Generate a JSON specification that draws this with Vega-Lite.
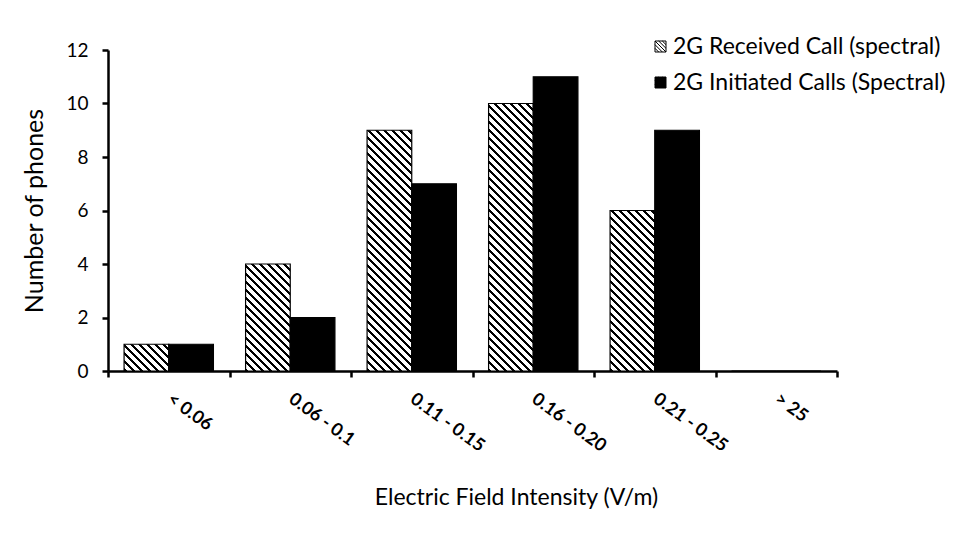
{
"$schema": "https://vega.github.io/schema/vega-lite/v6.json",
"width": 729,
"height": 321,
"autosize": "none",
"padding": {"left": 108, "top": 50, "right": 139, "bottom": 172},
"background": "#ffffff",
"config": {
  "font": "Lato",
  "view": {"stroke": null},
  "axis": {"domainColor": "#000", "domainWidth": 2.5, "tickColor": "#000", "tickWidth": 2.5, "tickSize": 6, "labelColor": "#000", "titleColor": "#000", "grid": false, "titleFontWeight": "normal", "titleFont": "Lato", "labelFont": "Lato"},
  "legend": {"labelFont": "Lato", "labelColor": "#000"}
},
"data": {"values": [
  {"cat": "< 0.06", "series": "2G Received Call (spectral)", "value": 1},
  {"cat": "< 0.06", "series": "2G Initiated Calls (Spectral)", "value": 1},
  {"cat": "0.06 - 0.1", "series": "2G Received Call (spectral)", "value": 4},
  {"cat": "0.06 - 0.1", "series": "2G Initiated Calls (Spectral)", "value": 2},
  {"cat": "0.11 - 0.15", "series": "2G Received Call (spectral)", "value": 9},
  {"cat": "0.11 - 0.15", "series": "2G Initiated Calls (Spectral)", "value": 7},
  {"cat": "0.16 - 0.20", "series": "2G Received Call (spectral)", "value": 10},
  {"cat": "0.16 - 0.20", "series": "2G Initiated Calls (Spectral)", "value": 11},
  {"cat": "0.21 - 0.25", "series": "2G Received Call (spectral)", "value": 6},
  {"cat": "0.21 - 0.25", "series": "2G Initiated Calls (Spectral)", "value": 9},
  {"cat": "> 25", "series": "2G Received Call (spectral)", "value": 0},
  {"cat": "> 25", "series": "2G Initiated Calls (Spectral)", "value": 0}
]},
"mark": {"type": "bar", "stroke": "#000", "strokeWidth": 1.2},
"encoding": {
  "x": {"field": "cat", "type": "nominal", "sort": ["< 0.06", "0.06 - 0.1", "0.11 - 0.15", "0.16 - 0.20", "0.21 - 0.25", "> 25"],
    "scale": {"paddingInner": 0, "paddingOuter": 0},
    "axis": {"title": "Electric Field Intensity (V/m)", "titleFontSize": 23, "titleX": 408, "titleY": 126, "titleBaseline": "middle", "titleAlign": "center",
      "tickBand": "extent", "labelAngle": 36, "labelAlign": "left", "labelBaseline": "middle", "labelPadding": 20, "labelFontSize": 18, "labelFontWeight": "bold"}},
  "xOffset": {"field": "series", "type": "nominal", "scale": {"domain": ["2G Received Call (spectral)", "2G Initiated Calls (Spectral)"], "paddingInner": 0, "paddingOuter": 0.36}},
  "y": {"field": "value", "type": "quantitative", "scale": {"domain": [0, 12]},
    "axis": {"title": "Number of phones", "titleFontSize": 25, "titleX": -74, "titleBaseline": "middle", "values": [0, 2, 4, 6, 8, 10, 12], "labelFontSize": 19, "labelPadding": 14}},
  "fill": {"field": "series", "type": "nominal",
    "scale": {"domain": ["2G Received Call (spectral)", "2G Initiated Calls (Spectral)"], "range": ["#ffffff", "#000000"]},
    "legend": {"title": null, "orient": "none", "legendX": 541, "legendY": -15, "labelFontSize": 23, "labelLimit": 0,
      "symbolType": "M-1,-1H1V1H-1Z M-1,0.33L-0.33,1 M-1,-0.33L0.33,1 M-1,-1L1,1 M-0.33,-1L1,0.33 M0.33,-1L1,-0.33",
      "symbolSize": 121, "symbolStrokeColor": "#000", "symbolStrokeWidth": 1, "rowPadding": 12, "labelOffset": 1},
    "condition": [
      {"test": "datum.series === '2G Received Call (spectral)' && datum.cat === '< 0.06'", "value": {"gradient": "linear", "x1": 0, "y1": 1, "x2": 1.1864, "y2": 0.2896, "stops": [
        {"offset":0,"color":"#000"},{"offset":0.0444,"color":"#000"},{"offset":0.0444,"color":"#fff"},{"offset":0.1111,"color":"#fff"},
        {"offset":0.1111,"color":"#000"},{"offset":0.1556,"color":"#000"},{"offset":0.1556,"color":"#fff"},{"offset":0.2222,"color":"#fff"},
        {"offset":0.2222,"color":"#000"},{"offset":0.2667,"color":"#000"},{"offset":0.2667,"color":"#fff"},{"offset":0.3333,"color":"#fff"},
        {"offset":0.3333,"color":"#000"},{"offset":0.3778,"color":"#000"},{"offset":0.3778,"color":"#fff"},{"offset":0.4444,"color":"#fff"},
        {"offset":0.4444,"color":"#000"},{"offset":0.4889,"color":"#000"},{"offset":0.4889,"color":"#fff"},{"offset":0.5556,"color":"#fff"},
        {"offset":0.5556,"color":"#000"},{"offset":0.6,"color":"#000"},{"offset":0.6,"color":"#fff"},{"offset":0.6667,"color":"#fff"},
        {"offset":0.6667,"color":"#000"},{"offset":0.7111,"color":"#000"},{"offset":0.7111,"color":"#fff"},{"offset":0.7778,"color":"#fff"},
        {"offset":0.7778,"color":"#000"},{"offset":0.8222,"color":"#000"},{"offset":0.8222,"color":"#fff"},{"offset":0.8889,"color":"#fff"},
        {"offset":0.8889,"color":"#000"},{"offset":0.9333,"color":"#000"},{"offset":0.9333,"color":"#fff"},{"offset":1,"color":"#fff"}]}},
      {"test": "datum.series === '2G Received Call (spectral)' && datum.cat === '0.06 - 0.1'", "value": {"gradient": "linear", "x1": 0, "y1": 1, "x2": 0.5050, "y2": -0.2097, "stops": [
        {"offset":0,"color":"#000"},{"offset":0.0211,"color":"#000"},{"offset":0.0211,"color":"#fff"},{"offset":0.0526,"color":"#fff"},
        {"offset":0.0526,"color":"#000"},{"offset":0.0737,"color":"#000"},{"offset":0.0737,"color":"#fff"},{"offset":0.1053,"color":"#fff"},
        {"offset":0.1053,"color":"#000"},{"offset":0.1263,"color":"#000"},{"offset":0.1263,"color":"#fff"},{"offset":0.1579,"color":"#fff"},
        {"offset":0.1579,"color":"#000"},{"offset":0.1789,"color":"#000"},{"offset":0.1789,"color":"#fff"},{"offset":0.2105,"color":"#fff"},
        {"offset":0.2105,"color":"#000"},{"offset":0.2316,"color":"#000"},{"offset":0.2316,"color":"#fff"},{"offset":0.2632,"color":"#fff"},
        {"offset":0.2632,"color":"#000"},{"offset":0.2842,"color":"#000"},{"offset":0.2842,"color":"#fff"},{"offset":0.3158,"color":"#fff"},
        {"offset":0.3158,"color":"#000"},{"offset":0.3368,"color":"#000"},{"offset":0.3368,"color":"#fff"},{"offset":0.3684,"color":"#fff"},
        {"offset":0.3684,"color":"#000"},{"offset":0.3895,"color":"#000"},{"offset":0.3895,"color":"#fff"},{"offset":0.4211,"color":"#fff"},
        {"offset":0.4211,"color":"#000"},{"offset":0.4421,"color":"#000"},{"offset":0.4421,"color":"#fff"},{"offset":0.4737,"color":"#fff"},
        {"offset":0.4737,"color":"#000"},{"offset":0.4947,"color":"#000"},{"offset":0.4947,"color":"#fff"},{"offset":0.5263,"color":"#fff"},
        {"offset":0.5263,"color":"#000"},{"offset":0.5474,"color":"#000"},{"offset":0.5474,"color":"#fff"},{"offset":0.5789,"color":"#fff"},
        {"offset":0.5789,"color":"#000"},{"offset":0.6,"color":"#000"},{"offset":0.6,"color":"#fff"},{"offset":0.6316,"color":"#fff"},
        {"offset":0.6316,"color":"#000"},{"offset":0.6526,"color":"#000"},{"offset":0.6526,"color":"#fff"},{"offset":0.6842,"color":"#fff"},
        {"offset":0.6842,"color":"#000"},{"offset":0.7053,"color":"#000"},{"offset":0.7053,"color":"#fff"},{"offset":0.7368,"color":"#fff"},
        {"offset":0.7368,"color":"#000"},{"offset":0.7579,"color":"#000"},{"offset":0.7579,"color":"#fff"},{"offset":0.7895,"color":"#fff"},
        {"offset":0.7895,"color":"#000"},{"offset":0.8105,"color":"#000"},{"offset":0.8105,"color":"#fff"},{"offset":0.8421,"color":"#fff"},
        {"offset":0.8421,"color":"#000"},{"offset":0.8632,"color":"#000"},{"offset":0.8632,"color":"#fff"},{"offset":0.8947,"color":"#fff"},
        {"offset":0.8947,"color":"#000"},{"offset":0.9158,"color":"#000"},{"offset":0.9158,"color":"#fff"},{"offset":0.9474,"color":"#fff"},
        {"offset":0.9474,"color":"#000"},{"offset":0.9684,"color":"#000"},{"offset":0.9684,"color":"#fff"},{"offset":1,"color":"#fff"}]}},
      {"test": "datum.series === '2G Received Call (spectral)' && datum.cat === '0.11 - 0.15'", "value": {"gradient": "linear", "x1": 0, "y1": 1, "x2": 0.2146, "y2": -0.1564, "stops": [
        {"offset":0,"color":"#000"},{"offset":0.0111,"color":"#000"},{"offset":0.0111,"color":"#fff"},{"offset":0.0278,"color":"#fff"},
        {"offset":0.0278,"color":"#000"},{"offset":0.0389,"color":"#000"},{"offset":0.0389,"color":"#fff"},{"offset":0.0556,"color":"#fff"},
        {"offset":0.0556,"color":"#000"},{"offset":0.0667,"color":"#000"},{"offset":0.0667,"color":"#fff"},{"offset":0.0833,"color":"#fff"},
        {"offset":0.0833,"color":"#000"},{"offset":0.0944,"color":"#000"},{"offset":0.0944,"color":"#fff"},{"offset":0.1111,"color":"#fff"},
        {"offset":0.1111,"color":"#000"},{"offset":0.1222,"color":"#000"},{"offset":0.1222,"color":"#fff"},{"offset":0.1389,"color":"#fff"},
        {"offset":0.1389,"color":"#000"},{"offset":0.15,"color":"#000"},{"offset":0.15,"color":"#fff"},{"offset":0.1667,"color":"#fff"},
        {"offset":0.1667,"color":"#000"},{"offset":0.1778,"color":"#000"},{"offset":0.1778,"color":"#fff"},{"offset":0.1944,"color":"#fff"},
        {"offset":0.1944,"color":"#000"},{"offset":0.2056,"color":"#000"},{"offset":0.2056,"color":"#fff"},{"offset":0.2222,"color":"#fff"},
        {"offset":0.2222,"color":"#000"},{"offset":0.2333,"color":"#000"},{"offset":0.2333,"color":"#fff"},{"offset":0.25,"color":"#fff"},
        {"offset":0.25,"color":"#000"},{"offset":0.2611,"color":"#000"},{"offset":0.2611,"color":"#fff"},{"offset":0.2778,"color":"#fff"},
        {"offset":0.2778,"color":"#000"},{"offset":0.2889,"color":"#000"},{"offset":0.2889,"color":"#fff"},{"offset":0.3056,"color":"#fff"},
        {"offset":0.3056,"color":"#000"},{"offset":0.3167,"color":"#000"},{"offset":0.3167,"color":"#fff"},{"offset":0.3333,"color":"#fff"},
        {"offset":0.3333,"color":"#000"},{"offset":0.3444,"color":"#000"},{"offset":0.3444,"color":"#fff"},{"offset":0.3611,"color":"#fff"},
        {"offset":0.3611,"color":"#000"},{"offset":0.3722,"color":"#000"},{"offset":0.3722,"color":"#fff"},{"offset":0.3889,"color":"#fff"},
        {"offset":0.3889,"color":"#000"},{"offset":0.4,"color":"#000"},{"offset":0.4,"color":"#fff"},{"offset":0.4167,"color":"#fff"},
        {"offset":0.4167,"color":"#000"},{"offset":0.4278,"color":"#000"},{"offset":0.4278,"color":"#fff"},{"offset":0.4444,"color":"#fff"},
        {"offset":0.4444,"color":"#000"},{"offset":0.4556,"color":"#000"},{"offset":0.4556,"color":"#fff"},{"offset":0.4722,"color":"#fff"},
        {"offset":0.4722,"color":"#000"},{"offset":0.4833,"color":"#000"},{"offset":0.4833,"color":"#fff"},{"offset":0.5,"color":"#fff"},
        {"offset":0.5,"color":"#000"},{"offset":0.5111,"color":"#000"},{"offset":0.5111,"color":"#fff"},{"offset":0.5278,"color":"#fff"},
        {"offset":0.5278,"color":"#000"},{"offset":0.5389,"color":"#000"},{"offset":0.5389,"color":"#fff"},{"offset":0.5556,"color":"#fff"},
        {"offset":0.5556,"color":"#000"},{"offset":0.5667,"color":"#000"},{"offset":0.5667,"color":"#fff"},{"offset":0.5833,"color":"#fff"},
        {"offset":0.5833,"color":"#000"},{"offset":0.5944,"color":"#000"},{"offset":0.5944,"color":"#fff"},{"offset":0.6111,"color":"#fff"},
        {"offset":0.6111,"color":"#000"},{"offset":0.6222,"color":"#000"},{"offset":0.6222,"color":"#fff"},{"offset":0.6389,"color":"#fff"},
        {"offset":0.6389,"color":"#000"},{"offset":0.65,"color":"#000"},{"offset":0.65,"color":"#fff"},{"offset":0.6667,"color":"#fff"},
        {"offset":0.6667,"color":"#000"},{"offset":0.6778,"color":"#000"},{"offset":0.6778,"color":"#fff"},{"offset":0.6944,"color":"#fff"},
        {"offset":0.6944,"color":"#000"},{"offset":0.7056,"color":"#000"},{"offset":0.7056,"color":"#fff"},{"offset":0.7222,"color":"#fff"},
        {"offset":0.7222,"color":"#000"},{"offset":0.7333,"color":"#000"},{"offset":0.7333,"color":"#fff"},{"offset":0.75,"color":"#fff"},
        {"offset":0.75,"color":"#000"},{"offset":0.7611,"color":"#000"},{"offset":0.7611,"color":"#fff"},{"offset":0.7778,"color":"#fff"},
        {"offset":0.7778,"color":"#000"},{"offset":0.7889,"color":"#000"},{"offset":0.7889,"color":"#fff"},{"offset":0.8056,"color":"#fff"},
        {"offset":0.8056,"color":"#000"},{"offset":0.8167,"color":"#000"},{"offset":0.8167,"color":"#fff"},{"offset":0.8333,"color":"#fff"},
        {"offset":0.8333,"color":"#000"},{"offset":0.8444,"color":"#000"},{"offset":0.8444,"color":"#fff"},{"offset":0.8611,"color":"#fff"},
        {"offset":0.8611,"color":"#000"},{"offset":0.8722,"color":"#000"},{"offset":0.8722,"color":"#fff"},{"offset":0.8889,"color":"#fff"},
        {"offset":0.8889,"color":"#000"},{"offset":0.9,"color":"#000"},{"offset":0.9,"color":"#fff"},{"offset":0.9167,"color":"#fff"},
        {"offset":0.9167,"color":"#000"},{"offset":0.9278,"color":"#000"},{"offset":0.9278,"color":"#fff"},{"offset":0.9444,"color":"#fff"},
        {"offset":0.9444,"color":"#000"},{"offset":0.9556,"color":"#000"},{"offset":0.9556,"color":"#fff"},{"offset":0.9722,"color":"#fff"},
        {"offset":0.9722,"color":"#000"},{"offset":0.9833,"color":"#000"},{"offset":0.9833,"color":"#fff"},{"offset":1,"color":"#fff"}]}},
      {"test": "datum.series === '2G Received Call (spectral)' && datum.cat === '0.16 - 0.20'", "value": {"gradient": "linear", "x1": 0, "y1": 1, "x2": 0.1944, "y2": -0.1638, "stops": [
        {"offset":0,"color":"#000"},{"offset":0.01,"color":"#000"},{"offset":0.01,"color":"#fff"},{"offset":0.025,"color":"#fff"},
        {"offset":0.025,"color":"#000"},{"offset":0.035,"color":"#000"},{"offset":0.035,"color":"#fff"},{"offset":0.05,"color":"#fff"},
        {"offset":0.05,"color":"#000"},{"offset":0.06,"color":"#000"},{"offset":0.06,"color":"#fff"},{"offset":0.075,"color":"#fff"},
        {"offset":0.075,"color":"#000"},{"offset":0.085,"color":"#000"},{"offset":0.085,"color":"#fff"},{"offset":0.1,"color":"#fff"},
        {"offset":0.1,"color":"#000"},{"offset":0.11,"color":"#000"},{"offset":0.11,"color":"#fff"},{"offset":0.125,"color":"#fff"},
        {"offset":0.125,"color":"#000"},{"offset":0.135,"color":"#000"},{"offset":0.135,"color":"#fff"},{"offset":0.15,"color":"#fff"},
        {"offset":0.15,"color":"#000"},{"offset":0.16,"color":"#000"},{"offset":0.16,"color":"#fff"},{"offset":0.175,"color":"#fff"},
        {"offset":0.175,"color":"#000"},{"offset":0.185,"color":"#000"},{"offset":0.185,"color":"#fff"},{"offset":0.2,"color":"#fff"},
        {"offset":0.2,"color":"#000"},{"offset":0.21,"color":"#000"},{"offset":0.21,"color":"#fff"},{"offset":0.225,"color":"#fff"},
        {"offset":0.225,"color":"#000"},{"offset":0.235,"color":"#000"},{"offset":0.235,"color":"#fff"},{"offset":0.25,"color":"#fff"},
        {"offset":0.25,"color":"#000"},{"offset":0.26,"color":"#000"},{"offset":0.26,"color":"#fff"},{"offset":0.275,"color":"#fff"},
        {"offset":0.275,"color":"#000"},{"offset":0.285,"color":"#000"},{"offset":0.285,"color":"#fff"},{"offset":0.3,"color":"#fff"},
        {"offset":0.3,"color":"#000"},{"offset":0.31,"color":"#000"},{"offset":0.31,"color":"#fff"},{"offset":0.325,"color":"#fff"},
        {"offset":0.325,"color":"#000"},{"offset":0.335,"color":"#000"},{"offset":0.335,"color":"#fff"},{"offset":0.35,"color":"#fff"},
        {"offset":0.35,"color":"#000"},{"offset":0.36,"color":"#000"},{"offset":0.36,"color":"#fff"},{"offset":0.375,"color":"#fff"},
        {"offset":0.375,"color":"#000"},{"offset":0.385,"color":"#000"},{"offset":0.385,"color":"#fff"},{"offset":0.4,"color":"#fff"},
        {"offset":0.4,"color":"#000"},{"offset":0.41,"color":"#000"},{"offset":0.41,"color":"#fff"},{"offset":0.425,"color":"#fff"},
        {"offset":0.425,"color":"#000"},{"offset":0.435,"color":"#000"},{"offset":0.435,"color":"#fff"},{"offset":0.45,"color":"#fff"},
        {"offset":0.45,"color":"#000"},{"offset":0.46,"color":"#000"},{"offset":0.46,"color":"#fff"},{"offset":0.475,"color":"#fff"},
        {"offset":0.475,"color":"#000"},{"offset":0.485,"color":"#000"},{"offset":0.485,"color":"#fff"},{"offset":0.5,"color":"#fff"},
        {"offset":0.5,"color":"#000"},{"offset":0.51,"color":"#000"},{"offset":0.51,"color":"#fff"},{"offset":0.525,"color":"#fff"},
        {"offset":0.525,"color":"#000"},{"offset":0.535,"color":"#000"},{"offset":0.535,"color":"#fff"},{"offset":0.55,"color":"#fff"},
        {"offset":0.55,"color":"#000"},{"offset":0.56,"color":"#000"},{"offset":0.56,"color":"#fff"},{"offset":0.575,"color":"#fff"},
        {"offset":0.575,"color":"#000"},{"offset":0.585,"color":"#000"},{"offset":0.585,"color":"#fff"},{"offset":0.6,"color":"#fff"},
        {"offset":0.6,"color":"#000"},{"offset":0.61,"color":"#000"},{"offset":0.61,"color":"#fff"},{"offset":0.625,"color":"#fff"},
        {"offset":0.625,"color":"#000"},{"offset":0.635,"color":"#000"},{"offset":0.635,"color":"#fff"},{"offset":0.65,"color":"#fff"},
        {"offset":0.65,"color":"#000"},{"offset":0.66,"color":"#000"},{"offset":0.66,"color":"#fff"},{"offset":0.675,"color":"#fff"},
        {"offset":0.675,"color":"#000"},{"offset":0.685,"color":"#000"},{"offset":0.685,"color":"#fff"},{"offset":0.7,"color":"#fff"},
        {"offset":0.7,"color":"#000"},{"offset":0.71,"color":"#000"},{"offset":0.71,"color":"#fff"},{"offset":0.725,"color":"#fff"},
        {"offset":0.725,"color":"#000"},{"offset":0.735,"color":"#000"},{"offset":0.735,"color":"#fff"},{"offset":0.75,"color":"#fff"},
        {"offset":0.75,"color":"#000"},{"offset":0.76,"color":"#000"},{"offset":0.76,"color":"#fff"},{"offset":0.775,"color":"#fff"},
        {"offset":0.775,"color":"#000"},{"offset":0.785,"color":"#000"},{"offset":0.785,"color":"#fff"},{"offset":0.8,"color":"#fff"},
        {"offset":0.8,"color":"#000"},{"offset":0.81,"color":"#000"},{"offset":0.81,"color":"#fff"},{"offset":0.825,"color":"#fff"},
        {"offset":0.825,"color":"#000"},{"offset":0.835,"color":"#000"},{"offset":0.835,"color":"#fff"},{"offset":0.85,"color":"#fff"},
        {"offset":0.85,"color":"#000"},{"offset":0.86,"color":"#000"},{"offset":0.86,"color":"#fff"},{"offset":0.875,"color":"#fff"},
        {"offset":0.875,"color":"#000"},{"offset":0.885,"color":"#000"},{"offset":0.885,"color":"#fff"},{"offset":0.9,"color":"#fff"},
        {"offset":0.9,"color":"#000"},{"offset":0.91,"color":"#000"},{"offset":0.91,"color":"#fff"},{"offset":0.925,"color":"#fff"},
        {"offset":0.925,"color":"#000"},{"offset":0.935,"color":"#000"},{"offset":0.935,"color":"#fff"},{"offset":0.95,"color":"#fff"},
        {"offset":0.95,"color":"#000"},{"offset":0.96,"color":"#000"},{"offset":0.96,"color":"#fff"},{"offset":0.975,"color":"#fff"},
        {"offset":0.975,"color":"#000"},{"offset":0.985,"color":"#000"},{"offset":0.985,"color":"#fff"},{"offset":1,"color":"#fff"}]}},
      {"test": "datum.series === '2G Received Call (spectral)' && datum.cat === '0.21 - 0.25'", "value": {"gradient": "linear", "x1": 0, "y1": 1, "x2": 0.3348, "y2": -0.2028, "stops": [
        {"offset":0,"color":"#000"},{"offset":0.0154,"color":"#000"},{"offset":0.0154,"color":"#fff"},{"offset":0.0385,"color":"#fff"},
        {"offset":0.0385,"color":"#000"},{"offset":0.0538,"color":"#000"},{"offset":0.0538,"color":"#fff"},{"offset":0.0769,"color":"#fff"},
        {"offset":0.0769,"color":"#000"},{"offset":0.0923,"color":"#000"},{"offset":0.0923,"color":"#fff"},{"offset":0.1154,"color":"#fff"},
        {"offset":0.1154,"color":"#000"},{"offset":0.1308,"color":"#000"},{"offset":0.1308,"color":"#fff"},{"offset":0.1538,"color":"#fff"},
        {"offset":0.1538,"color":"#000"},{"offset":0.1692,"color":"#000"},{"offset":0.1692,"color":"#fff"},{"offset":0.1923,"color":"#fff"},
        {"offset":0.1923,"color":"#000"},{"offset":0.2077,"color":"#000"},{"offset":0.2077,"color":"#fff"},{"offset":0.2308,"color":"#fff"},
        {"offset":0.2308,"color":"#000"},{"offset":0.2462,"color":"#000"},{"offset":0.2462,"color":"#fff"},{"offset":0.2692,"color":"#fff"},
        {"offset":0.2692,"color":"#000"},{"offset":0.2846,"color":"#000"},{"offset":0.2846,"color":"#fff"},{"offset":0.3077,"color":"#fff"},
        {"offset":0.3077,"color":"#000"},{"offset":0.3231,"color":"#000"},{"offset":0.3231,"color":"#fff"},{"offset":0.3462,"color":"#fff"},
        {"offset":0.3462,"color":"#000"},{"offset":0.3615,"color":"#000"},{"offset":0.3615,"color":"#fff"},{"offset":0.3846,"color":"#fff"},
        {"offset":0.3846,"color":"#000"},{"offset":0.4,"color":"#000"},{"offset":0.4,"color":"#fff"},{"offset":0.4231,"color":"#fff"},
        {"offset":0.4231,"color":"#000"},{"offset":0.4385,"color":"#000"},{"offset":0.4385,"color":"#fff"},{"offset":0.4615,"color":"#fff"},
        {"offset":0.4615,"color":"#000"},{"offset":0.4769,"color":"#000"},{"offset":0.4769,"color":"#fff"},{"offset":0.5,"color":"#fff"},
        {"offset":0.5,"color":"#000"},{"offset":0.5154,"color":"#000"},{"offset":0.5154,"color":"#fff"},{"offset":0.5385,"color":"#fff"},
        {"offset":0.5385,"color":"#000"},{"offset":0.5538,"color":"#000"},{"offset":0.5538,"color":"#fff"},{"offset":0.5769,"color":"#fff"},
        {"offset":0.5769,"color":"#000"},{"offset":0.5923,"color":"#000"},{"offset":0.5923,"color":"#fff"},{"offset":0.6154,"color":"#fff"},
        {"offset":0.6154,"color":"#000"},{"offset":0.6308,"color":"#000"},{"offset":0.6308,"color":"#fff"},{"offset":0.6538,"color":"#fff"},
        {"offset":0.6538,"color":"#000"},{"offset":0.6692,"color":"#000"},{"offset":0.6692,"color":"#fff"},{"offset":0.6923,"color":"#fff"},
        {"offset":0.6923,"color":"#000"},{"offset":0.7077,"color":"#000"},{"offset":0.7077,"color":"#fff"},{"offset":0.7308,"color":"#fff"},
        {"offset":0.7308,"color":"#000"},{"offset":0.7462,"color":"#000"},{"offset":0.7462,"color":"#fff"},{"offset":0.7692,"color":"#fff"},
        {"offset":0.7692,"color":"#000"},{"offset":0.7846,"color":"#000"},{"offset":0.7846,"color":"#fff"},{"offset":0.8077,"color":"#fff"},
        {"offset":0.8077,"color":"#000"},{"offset":0.8231,"color":"#000"},{"offset":0.8231,"color":"#fff"},{"offset":0.8462,"color":"#fff"},
        {"offset":0.8462,"color":"#000"},{"offset":0.8615,"color":"#000"},{"offset":0.8615,"color":"#fff"},{"offset":0.8846,"color":"#fff"},
        {"offset":0.8846,"color":"#000"},{"offset":0.9,"color":"#000"},{"offset":0.9,"color":"#fff"},{"offset":0.9231,"color":"#fff"},
        {"offset":0.9231,"color":"#000"},{"offset":0.9385,"color":"#000"},{"offset":0.9385,"color":"#fff"},{"offset":0.9615,"color":"#fff"},
        {"offset":0.9615,"color":"#000"},{"offset":0.9769,"color":"#000"},{"offset":0.9769,"color":"#fff"},{"offset":1,"color":"#fff"}]}}
    ]}
}
}
